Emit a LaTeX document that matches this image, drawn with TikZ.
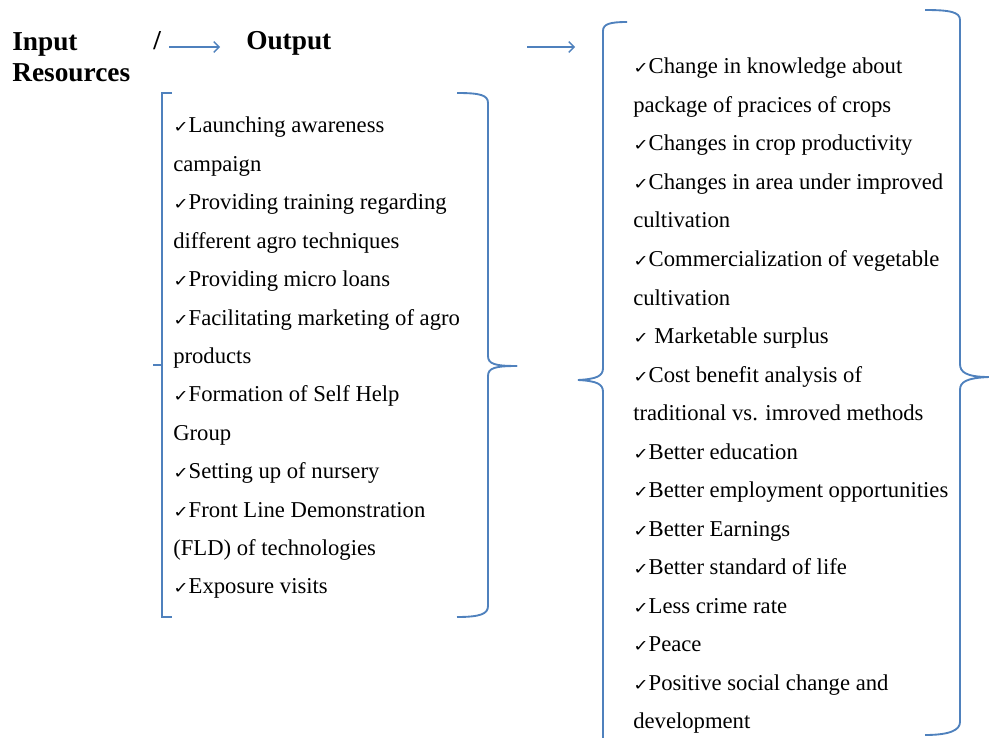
\documentclass[tikz,border=0pt]{standalone}
\usepackage{fontspec}
\setmainfont{Liberation Serif}
\newfontfamily\chkfont{DejaVu Sans}
\usetikzlibrary{arrows.meta,calc}
\definecolor{brkblue}{RGB}{79,129,189}
\newcommand{\ck}{{\chkfont\fontsize{12}{12}\selectfont\scalebox{1.15}[1]{✓}}}
\begin{document}
\begin{tikzpicture}[x=0.75pt,y=-0.75pt,
  item/.style={anchor=base west,inner sep=0pt,font=\fontsize{17}{20}\selectfont,text=black},
  head/.style={anchor=base west,inner sep=0pt,font=\bfseries\fontsize{20.5}{23}\selectfont},
  brk/.style={draw=brkblue,line width=1.4pt},
  arr/.style={draw=brkblue,line width=1pt,-{Straight Barb[length=4pt,width=8pt]}}]
\useasboundingbox (0,0) rectangle (989,738);
% header
\node[head] (in) at (12,51) {Input};
\node[head] (res) at (12,82) {Resources};
\node[head] (sl) at (153,50) {/};
\node[head] (out) at (246,50) {Output};
\coordinate (a2s) at (527,47);
\coordinate (a2e) at (575,47);
\draw[arr] ($(sl.base east)+(8,-3)$) -- ($(out.base west)+(-26,-3)$);
\draw[arr] (a2s) -- (a2e);
% left list
\foreach \t [count=\i] in {{\ck Launching awareness},{campaign},{\ck Providing training regarding},{different agro techniques},{\ck Providing micro loans},{\ck Facilitating marketing of agro},{products},{\ck Formation of Self Help},{Group},{\ck Setting up of nursery},{\ck Front Line Demonstration},{(FLD) of technologies},{\ck Exposure visits}}
  \node[item] (l\i) at (173,{133+38.4*(\i-1)}) {\t};
% right list
\foreach \t [count=\i] in {{\ck Change in knowledge about},{package of pracices of crops},{\ck Changes in crop productivity},{\ck Changes in area under improved},{cultivation},{\ck Commercialization of vegetable},{cultivation},{\ck\ Marketable surplus},{\ck Cost benefit analysis of},{traditional vs. imroved methods},{\ck Better education},{\ck Better employment opportunities},{\ck Better Earnings},{\ck Better standard of life},{\ck Less crime rate},{\ck Peace},{\ck Positive social change and},{development}}
  \node[item] (r\i) at (633,{74+38.5*(\i-1)}) {\t};
% left box brackets
\draw[brk] (172,93) -- (162,93) -- (162,617) -- (172,617);
\draw[brk] (162,365) -- (153,365);
\draw[brk] (457,93) .. controls (480,93) and (488,95) .. (488,103) -- (488,356)
  .. controls (488,364) and (495,366) .. (517,366);
\draw[brk] (517,366) .. controls (495,366) and (488,368) .. (488,376) -- (488,606)
  .. controls (488,614) and (480,617) .. (457,617);
% right box brackets
\draw[brk] (627,22) .. controls (610,22) and (603,24) .. (603,31) -- (603,368)
  .. controls (603,376) and (597,379) .. (578,380)
  .. controls (597,381) and (603,384) .. (603,392) -- (603,740);
\draw[brk] (925,10) .. controls (950,10) and (960,12) .. (960,20) -- (960,364)
  .. controls (960,372) and (966,377) .. (989,377)
  .. controls (966,378) and (960,382) .. (960,390) -- (960,722)
  .. controls (960,730) and (950,735) .. (925,735);
\end{tikzpicture}
\end{document}
